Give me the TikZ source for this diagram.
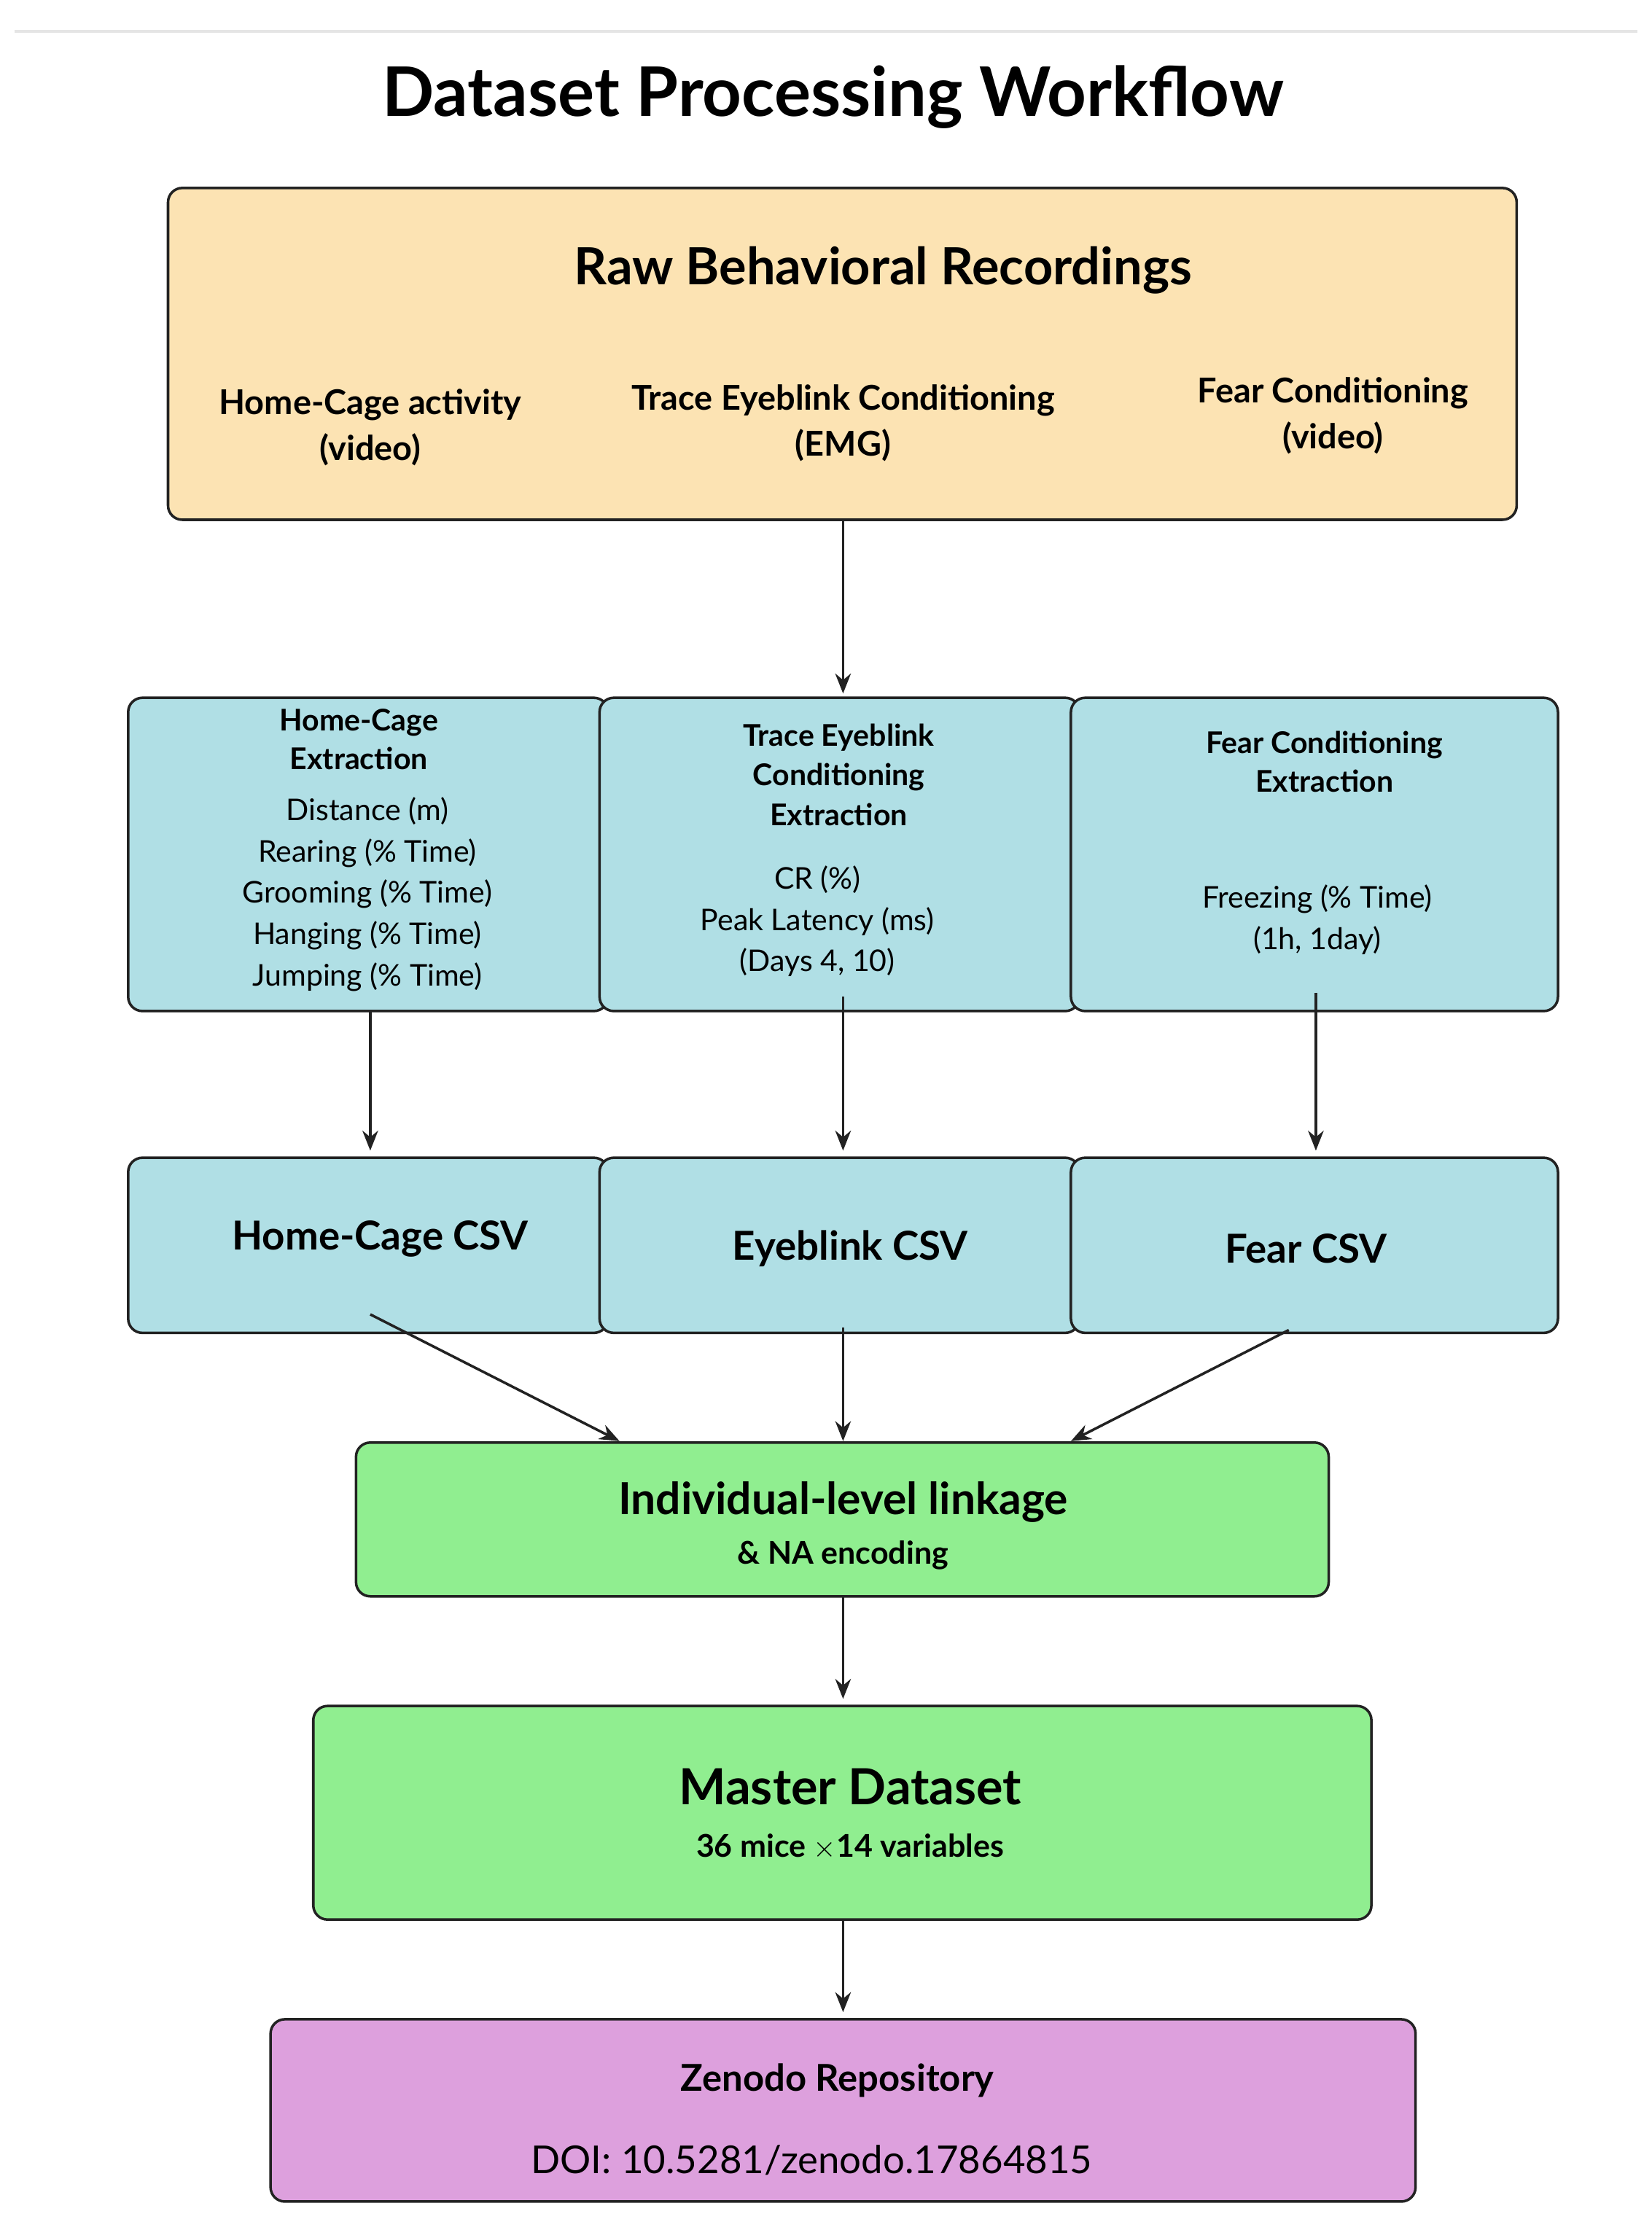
\documentclass[tikz,border=0pt]{standalone}
\usepackage{fontspec}
\setmainfont{Lato}
\usetikzlibrary{arrows.meta}
\definecolor{rawc}{HTML}{FCE3B3}
\definecolor{bluec}{HTML}{B0DFE5}
\definecolor{greenc}{HTML}{90EE90}
\definecolor{purpc}{HTML}{DDA0DD}
\definecolor{edge}{HTML}{222222}
\tikzset{
 box/.style={draw=edge,line width=1.8pt,rounded corners=10pt},
 arr/.style={draw=edge,line width=1.8pt,-{Stealth[length=14pt,width=11pt]}},
 txt/.style={align=center,inner sep=0pt,text=black}
}
\begin{document}
\begin{tikzpicture}[x=1pt,y=-1pt]
\useasboundingbox (0,0) rectangle (1160,1566);
\draw[gray!20,line width=2pt] (10,22) -- (1150,22);
\node[txt,font=\fontsize{48}{54}\selectfont\bfseries] (title) at (585,68) {Dataset Processing Workflow};
% raw
\path[box,fill=rawc] (118,132) rectangle (1065,365);
\coordinate (rawb) at (592,365);
\node[txt,font=\fontsize{36}{40}\selectfont\bfseries] (rawt) at (620,190) {Raw Behavioral Recordings};
\node[txt,font=\fontsize{24}{32}\selectfont\bfseries] (r1) at (260,300) {Home-Cage activity\\(video)};
\node[txt,font=\fontsize{24}{32}\selectfont\bfseries] (r2) at (592,297) {Trace Eyeblink Conditioning\\(EMG)};
\node[txt,font=\fontsize{24}{32}\selectfont\bfseries] (r3) at (936,292) {Fear Conditioning\\(video)};
% row1
\path[box,fill=bluec] (90,490) rectangle (427,710);
\path[box,fill=bluec] (421,490) rectangle (758,710);
\path[box,fill=bluec] (752,490) rectangle (1094,710);
\node[txt,font=\fontsize{21}{27}\selectfont\bfseries] (e1) at (252,519) {Home-Cage\\Extraction};
\node[txt,font=\fontsize{21}{29}\selectfont] (e1i) at (258,628) {Distance (m)\\Rearing (\% Time)\\Grooming (\% Time)\\Hanging (\% Time)\\Jumping (\% Time)};
\node[txt,font=\fontsize{21}{28}\selectfont\bfseries] (e2) at (589,544) {Trace Eyeblink\\Conditioning\\Extraction};
\node[txt,font=\fontsize{21}{29}\selectfont] (e2i) at (574,647) {CR (\%)\\Peak Latency (ms)\\(Days 4, 10)};
\node[txt,font=\fontsize{21}{27}\selectfont\bfseries] (e3) at (930,535) {Fear Conditioning\\Extraction};
\node[txt,font=\fontsize{21}{29}\selectfont] (e3i) at (925,646) {Freezing (\% Time)\\(1h, 1day)};
\coordinate (t2) at (592,487);
\draw[arr] (rawb) -- (t2);
% row2
\path[box,fill=bluec] (90,813) rectangle (427,936);
\path[box,fill=bluec] (421,813) rectangle (758,936);
\path[box,fill=bluec] (752,813) rectangle (1094,936);
\node[txt,font=\fontsize{28}{32}\selectfont\bfseries] (c1) at (267,870) {Home-Cage CSV};
\node[txt,font=\fontsize{28}{32}\selectfont\bfseries] (c2) at (597,877) {Eyeblink CSV};
\node[txt,font=\fontsize{28}{32}\selectfont\bfseries] (c3) at (917,877) {Fear CSV};
\coordinate (a1s) at (260,710); \coordinate (a1e) at (260,808);
\coordinate (a2s) at (592,700); \coordinate (a2e) at (592,808);
\coordinate (a3s) at (924,697); \coordinate (a3e) at (924,808);
\draw[arr] (a1s) -- (a1e);
\draw[arr] (a2s) -- (a2e);
\draw[arr] (a3s) -- (a3e);
% green1
\path[box,fill=greenc] (250,1013) rectangle (933,1121);
\node[txt,font=\fontsize{31}{36}\selectfont\bfseries] (l1) at (592,1055) {Individual-level linkage};
\node[txt,font=\fontsize{22}{26}\selectfont\bfseries] (l2) at (592,1092) {\& NA encoding};
\coordinate (b1s) at (260,923); \coordinate (b1e) at (435,1012);
\coordinate (b2s) at (592,932); \coordinate (b2e) at (592,1012);
\coordinate (b3s) at (905,934); \coordinate (b3e) at (752,1012);
\draw[arr] (b1s) -- (b1e);
\draw[arr] (b2s) -- (b2e);
\draw[arr] (b3s) -- (b3e);
% green2
\path[box,fill=greenc] (220,1198) rectangle (963,1348);
\node[txt,font=\fontsize{35}{40}\selectfont\bfseries] (m1) at (597,1255) {Master Dataset};
\node[txt,font=\fontsize{22}{26}\selectfont\bfseries] (m2) at (597,1297) {36 mice $\times$14 variables};
\coordinate (g1) at (592,1121); \coordinate (g2) at (592,1193);
\draw[arr] (g1) -- (g2);
% purple
\path[box,fill=purpc] (190,1418) rectangle (994,1546);
\node[txt,font=\fontsize{26}{30}\selectfont\bfseries] (z1) at (588,1461) {Zenodo Repository};
\node[txt,font=\fontsize{27}{30}\selectfont] (z2) at (570,1517) {DOI: 10.5281/zenodo.17864815};
\coordinate (h1) at (592,1348); \coordinate (h2) at (592,1413);
\draw[arr] (h1) -- (h2);
\end{tikzpicture}
\end{document}
